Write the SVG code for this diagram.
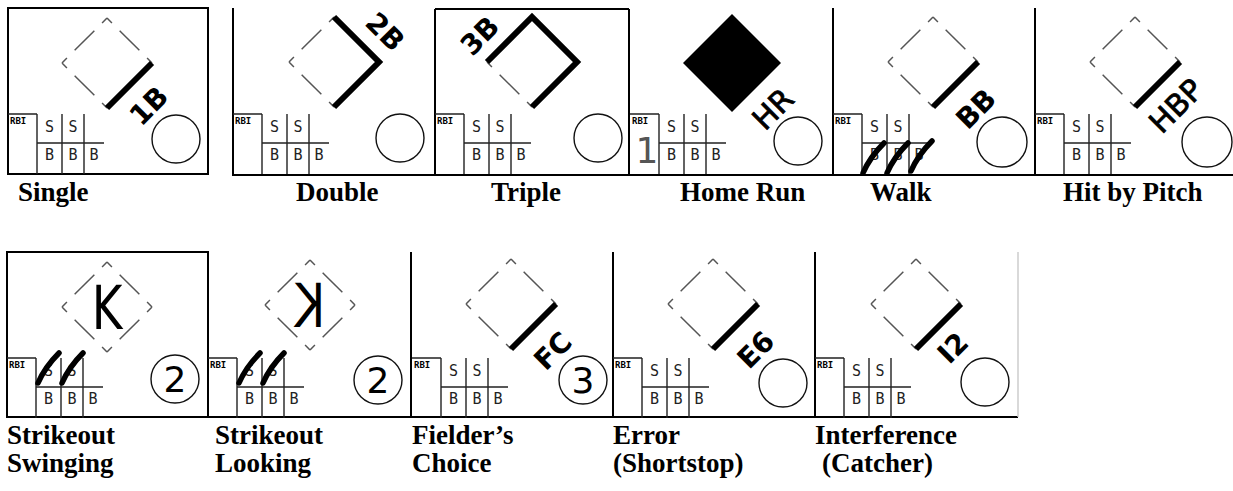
<svg xmlns="http://www.w3.org/2000/svg" xmlns:xlink="http://www.w3.org/1999/xlink" width="1233" height="491" viewBox="0 0 1233 491">
<style>
.bg{fill:#fff}
.border{fill:none;stroke:#000;stroke-width:2}
.gridline{fill:none;stroke:#222;stroke-width:1.4}
.dia{fill:none;stroke:#555;stroke-width:1.5;stroke-dasharray:7 11 28 11 7 0}
.thick{fill:none;stroke:#000;stroke-width:6;stroke-linejoin:miter}
.ball{fill:none;stroke:#111;stroke-width:1.4}
.slash{fill:none;stroke:#000;stroke-width:5.5;stroke-linecap:round}
.tiny{font-family:"DejaVu Sans Mono",monospace;font-size:9px;font-weight:bold;fill:#000}
.sb{font-family:"DejaVu Sans Mono",monospace;font-size:15px;fill:#222;text-anchor:middle}
.code{font-family:"DejaVu Sans",sans-serif;font-size:28px;font-weight:bold;fill:#000;text-anchor:middle;dominant-baseline:central}
.codeR{font-family:"DejaVu Sans",sans-serif;font-size:30px;font-weight:normal;fill:#000;stroke:#000;stroke-width:0.8;text-anchor:middle;dominant-baseline:central}
.num{font-family:"DejaVu Sans",sans-serif;font-size:36px;fill:#000;text-anchor:middle}
.kk{font-family:"DejaVu Sans",sans-serif;font-size:60px;fill:#000;text-anchor:middle}
.lab{font-family:"Liberation Serif","Times New Roman",serif;font-size:27px;font-weight:bold;fill:#000}
</style>
<defs>
<g id="grid">
<path class="gridline" d="M0,106 H29 M29,106 V166 M54,106 V166 M76,106 V166 M29,135 H96"/>
<text class="tiny" x="2" y="116">RBI</text>
<text class="sb" x="41.5" y="124">S</text>
<text class="sb" x="65" y="124">S</text>
<text class="sb" x="41.5" y="152">B</text>
<text class="sb" x="65" y="152">B</text>
<text class="sb" x="86" y="152">B</text>
</g>
<path id="dia" class="dia" pathLength="256" d="M0,-45 L45,0 L0,45 L-45,0 Z"/>
<path id="slash" class="slash" d="M0,0 Q7,-16 21,-30"/>
</defs>
<rect class="bg" x="0" y="0" width="1233" height="491"/>

<g id="connectors"></g>

<g id="borders">
<rect class="border" x="8" y="8" width="200" height="166"/>
<path class="border" d="M233,8 V175 H1233 M435,9 H629 M435,9 V175 M629,9 V175 M833,8 V175 M1035,8 V175"/>
<rect class="border" x="7" y="252" width="201" height="165"/>
<path class="border" d="M208,417 H1018 M411,252 V417 M613,252 V417 M815,252 V417"/>
<path d="M1018,252 V417" stroke="#ccc" stroke-width="1.5" fill="none"/>
</g>

<g id="single">
<g transform="translate(8,8)">
<use href="#grid"/>
<g transform="translate(99,55)">
<use href="#dia"/>
<path class="thick" d="M45,0 L0,45"/>
<text class="code" transform="translate(42,43) rotate(-45)">1B</text>
</g>
<circle class="ball" cx="168" cy="131" r="24"/>
</g>
<text class="lab" x="18" y="201">Single</text>
</g>

<g id="double">
<g transform="translate(233,8)">
<use href="#grid"/>
<g transform="translate(101,54)">
<use href="#dia"/>
<path class="thick" d="M0,45 L45,0 L0,-45"/>
<text class="code" transform="translate(51,-30) rotate(45)">2B</text>
</g>
<circle class="ball" cx="167" cy="130" r="24"/>
</g>
<text class="lab" x="296" y="201">Double</text>
</g>

<g id="triple">
<g transform="translate(435,8)">
<use href="#grid"/>
<g transform="translate(97,54)">
<use href="#dia"/>
<path class="thick" d="M0,45 L45,0 L0,-45 L-45,0"/>
<text class="code" transform="translate(-52,-26) rotate(-45)">3B</text>
</g>
<circle class="ball" cx="163" cy="130" r="24"/>
</g>
<text class="lab" x="491" y="201">Triple</text>
</g>

<g id="home-run">
<g transform="translate(630,8)">
<use href="#grid"/>
<text x="17" y="155" font-family="DejaVu Sans, sans-serif" font-size="36" fill="#555" text-anchor="middle">1</text>
<g transform="translate(102,55)">
<polygon points="0,-49 49,0 0,49 -49,0" fill="#000"/>
<text class="codeR" transform="translate(41,46) rotate(-45)">HR</text>
</g>
<circle class="ball" cx="168" cy="133" r="24"/>
</g>
<text class="lab" x="680" y="201">Home Run</text>
</g>

<g id="walk">
<g transform="translate(833,8)">
<use href="#grid"/>
<use href="#slash" x="30" y="165"/>
<use href="#slash" x="54" y="165"/>
<use href="#slash" x="78" y="163"/>
<g transform="translate(100,54)">
<use href="#dia"/>
<path class="thick" d="M45,0 L0,45"/>
<text class="code" transform="translate(43,47) rotate(-45)">BB</text>
</g>
<circle class="ball" cx="169" cy="134" r="25"/>
</g>
<text class="lab" x="870" y="201">Walk</text>
</g>

<g id="hit-by-pitch">
<g transform="translate(1035,8)">
<use href="#grid"/>
<g transform="translate(100,54)">
<use href="#dia"/>
<path class="thick" d="M45,0 L0,45"/>
<text class="codeR" transform="translate(41,44) rotate(-45)">HBP</text>
</g>
<circle class="ball" cx="172" cy="134" r="25"/>
</g>
<text class="lab" x="1063" y="201">Hit by Pitch</text>
</g>

<g id="strikeout-swinging">
<g transform="translate(7,252)">
<use href="#grid"/>
<use href="#slash" x="31" y="131"/>
<use href="#slash" x="55" y="131"/>
<g transform="translate(100,55)">
<use href="#dia"/>
<text class="kk" x="0" y="22" transform="scale(0.78,1)">K</text>
</g>
<circle class="ball" cx="168" cy="127" r="24"/>
<text class="num" x="168" y="140">2</text>
</g>
<text class="lab" x="7" y="444">Strikeout</text>
<text class="lab" x="7" y="472">Swinging</text>
</g>

<g id="strikeout-looking">
<g transform="translate(208,252)">
<use href="#grid"/>
<use href="#slash" x="31" y="131"/>
<use href="#slash" x="55" y="131"/>
<g transform="translate(102,53)">
<use href="#dia"/>
<text class="kk" x="0" y="22" transform="scale(-0.78,1)">K</text>
</g>
<circle class="ball" cx="170" cy="128" r="24"/>
<text class="num" x="170" y="141">2</text>
</g>
<text class="lab" x="215" y="444">Strikeout</text>
<text class="lab" x="215" y="472">Looking</text>
</g>

<g id="fielders-choice">
<g transform="translate(412,252)">
<use href="#grid"/>
<g transform="translate(99,52)">
<use href="#dia"/>
<path class="thick" d="M45,0 L0,45"/>
<text class="code" transform="translate(42,47) rotate(-45)">FC</text>
</g>
<circle class="ball" cx="171" cy="128" r="24"/>
<text class="num" x="171" y="141">3</text>
</g>
<text class="lab" x="412" y="444">Fielder’s</text>
<text class="lab" x="412" y="472">Choice</text>
</g>

<g id="error-shortstop">
<g transform="translate(613,252)">
<use href="#grid"/>
<g transform="translate(100,52)">
<use href="#dia"/>
<path class="thick" d="M45,0 L0,45"/>
<text class="code" transform="translate(43,46) rotate(-45)">E6</text>
</g>
<circle class="ball" cx="170" cy="131" r="24"/>
</g>
<text class="lab" x="613" y="444">Error</text>
<text class="lab" x="613" y="472">(Shortstop)</text>
</g>

<g id="interference-catcher">
<g transform="translate(815,252)">
<use href="#grid"/>
<g transform="translate(101,52)">
<use href="#dia"/>
<path class="thick" d="M45,0 L0,45"/>
<text class="code" transform="translate(37,44) rotate(-45)">I2</text>
</g>
<circle class="ball" cx="170" cy="130" r="24"/>
</g>
<text class="lab" x="815" y="444">Interference</text>
<text class="lab" x="822" y="472">(Catcher)</text>
</g>
</svg>
